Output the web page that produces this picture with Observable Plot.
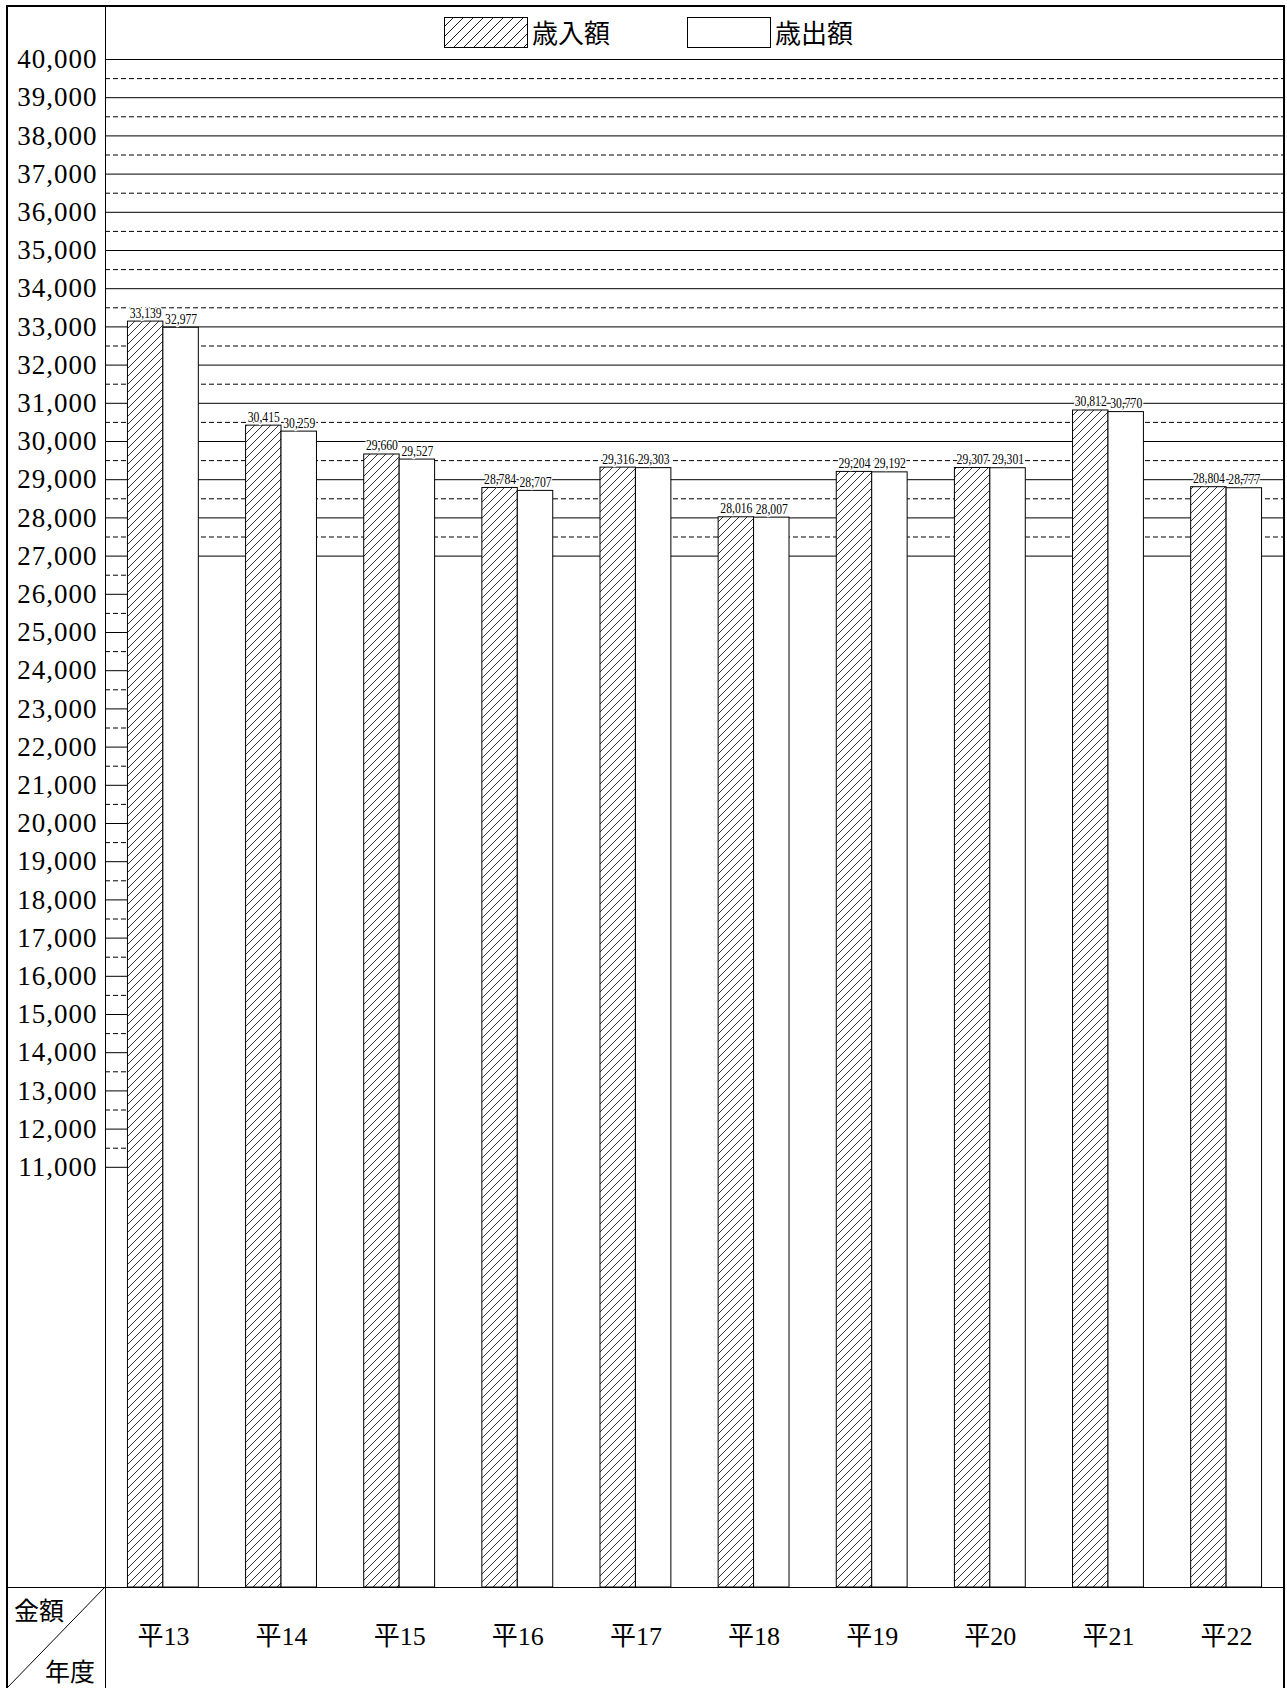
<!DOCTYPE html>
<html>
<head>
<meta charset="utf-8">
<script src="https://cdn.jsdelivr.net/npm/d3@7"></script>
<script src="https://cdn.jsdelivr.net/npm/@observablehq/plot@0.6"></script>
<style>
  html, body { margin: 0; padding: 0; background: #fff; }
  #wrap { position: relative; width: 1287px; height: 1688px; overflow: hidden; background: #fff; }
  #wrap > svg.deco { position: absolute; left: 0; top: 0; pointer-events: none; }
  .jp { position: absolute; font-family: "Noto Sans CJK JP", sans-serif; color: #000; line-height: 1; white-space: nowrap; }
  g[aria-label="y-axis tick label"] text { letter-spacing: 1px; }
</style>
</head>
<body>
<svg width="0" height="0" style="position:absolute">
  <defs>
    <pattern id="hatch" patternUnits="userSpaceOnUse" width="8" height="8">
      <rect width="8" height="8" fill="white"/>
      <path d="M-1,1 L1,-1 M0,8 L8,0 M7,9 L9,7" stroke="black" stroke-width="0.8" fill="none"/>
    </pattern>
    <pattern id="hatchLegend" patternUnits="userSpaceOnUse" width="10" height="10">
      <rect width="10" height="10" fill="white"/>
      <path d="M-1,1 L1,-1 M0,10 L10,0 M9,11 L11,9" stroke="black" stroke-width="0.9" fill="none"/>
    </pattern>
  </defs>
</svg>
<div id="wrap"></div>
<script>
// ---- data ----
const years = ["平13", "平14", "平15", "平16", "平17", "平18", "平19", "平20", "平21", "平22"];
const seriesNames = ["歳入額", "歳出額"];
const revenue = [33139, 30415, 29660, 28784, 29316, 28016, 29204, 29307, 30812, 28804];
const expenditure = [32977, 30259, 29527, 28707, 29303, 28007, 29192, 29301, 30770, 28777];
const yTickValues = d3.range(11000, 40001, 1000);
const fullSolidGrid = d3.range(27000, 40001, 1000);
const fullDashedGrid = d3.range(27500, 40000, 1000);
const stubSolidGrid = d3.range(11000, 27000, 1000);
const stubDashedGrid = d3.range(11500, 27000, 1000);
const cornerTop = "金額";
const cornerBottom = "年度";

// ---- layout ----
const W = 1287, H = 1688;
const mL = 105, mR = 3, mT = 59, mB = 101;
const pIn = 0.4, pOut = 0.19;
const n = years.length;
const frameW = W - mL - mR;
const step = frameW / (n - pIn + 2 * pOut);
const bw = step * (1 - pIn);
const stubInset = frameW - step * pOut; // grid stubs stop at the first bar
const fmt = d3.format(",");
const serif = '"Liberation Serif", "Noto Sans CJK JP", serif';

const revData = years.map((y, i) => ({year: y, series: seriesNames[0], value: revenue[i]}));
const expData = years.map((y, i) => ({year: y, series: seriesNames[1], value: expenditure[i]}));

const labelOpts = {
  x: "year", y: "value", text: d => fmt(d.value),
  dy: -4, lineAnchor: "bottom", fontSize: 14, fill: "black",
  stroke: "white", strokeWidth: 3, paintOrder: "stroke"
};

const chart = Plot.plot({
  width: W, height: H,
  marginLeft: mL, marginRight: mR, marginTop: mT, marginBottom: mB,
  style: {fontFamily: serif, color: "black", background: "transparent", overflow: "visible"},
  x: {type: "band", domain: years, paddingInner: pIn, paddingOuter: pOut, round: false, label: null},
  y: {domain: [0, 40000], label: null},
  marks: [
    Plot.ruleY(fullSolidGrid, {stroke: "black", strokeWidth: 1}),
    Plot.ruleY(fullDashedGrid, {stroke: "black", strokeWidth: 1, strokeDasharray: "5,3"}),
    Plot.ruleY(stubSolidGrid, {insetRight: stubInset, stroke: "black", strokeWidth: 1}),
    Plot.ruleY(stubDashedGrid, {insetRight: stubInset, stroke: "black", strokeWidth: 1, strokeDasharray: "5,3"}),
    Plot.barY(revData, {x: "year", y: "value", insetRight: bw / 2, fill: "url(#hatch)", stroke: "black", strokeWidth: 1}),
    Plot.barY(expData, {x: "year", y: "value", insetLeft: bw / 2, fill: "white", stroke: "black", strokeWidth: 1}),
    Plot.text(revData, {...labelOpts, dx: -bw / 4}),
    Plot.text(expData, {...labelOpts, dx: bw / 4}),
    Plot.axisY(yTickValues, {tickSize: 0, tickPadding: 8, tickFormat: fmt, fontSize: 27, fill: "black"}),
    Plot.axisX({tickSize: 0, tickPadding: 39, fontSize: 26, fill: "black"})
  ]
});

// condensed value labels (narrow figures as in the original)
d3.select(chart).selectAll('g[aria-label="text"] text')
  .attr("textLength", 32).attr("lengthAdjust", "spacingAndGlyphs");

const wrap = document.getElementById("wrap");
wrap.appendChild(chart);

// ---- table frame decorations ----
const deco = d3.select(wrap).append("svg")
  .attr("class", "deco").attr("width", W).attr("height", H);
const yBase = H - mB;
deco.append("line").attr("x1", 6).attr("x2", W - 2).attr("y1", 6).attr("y2", 6).attr("stroke", "black").attr("stroke-width", 2);
deco.append("line").attr("x1", 7).attr("x2", 7).attr("y1", 5).attr("y2", H).attr("stroke", "black").attr("stroke-width", 2);
deco.append("line").attr("x1", W - 3).attr("x2", W - 3).attr("y1", 5).attr("y2", H).attr("stroke", "black").attr("stroke-width", 2);
deco.append("line").attr("x1", mL + 0.5).attr("x2", mL + 0.5).attr("y1", 6).attr("y2", H).attr("stroke", "black").attr("stroke-width", 1);
deco.append("line").attr("x1", 7).attr("x2", W - 3).attr("y1", yBase + 0.5).attr("y2", yBase + 0.5).attr("stroke", "black").attr("stroke-width", 1);
deco.append("line").attr("x1", mL).attr("x2", 7).attr("y1", yBase).attr("y2", H).attr("stroke", "black").attr("stroke-width", 1);

// corner labels
function addText(txt, left, top, size) {
  const d = document.createElement("div");
  d.className = "jp";
  d.textContent = txt;
  d.style.left = left + "px";
  d.style.top = top + "px";
  d.style.fontSize = size + "px";
  wrap.appendChild(d);
  return d;
}
addText(cornerTop, 14, 1597, 25);
addText(cornerBottom, 45, 1658, 25);

// legend
function addSwatch(left, fillPattern) {
  const s = document.createElementNS("http://www.w3.org/2000/svg", "svg");
  s.setAttribute("width", 84); s.setAttribute("height", 31);
  s.style.position = "absolute"; s.style.left = left + "px"; s.style.top = "17px";
  s.innerHTML = `<rect x="0.5" y="0.5" width="83" height="30" fill="${fillPattern}" stroke="black" stroke-width="1"/>`;
  wrap.appendChild(s);
}
addSwatch(444, "url(#hatchLegend)");
addText(seriesNames[0], 532, 19, 26);
addSwatch(687, "white");
addText(seriesNames[1], 775, 19, 26);
</script>
</body>
</html>
